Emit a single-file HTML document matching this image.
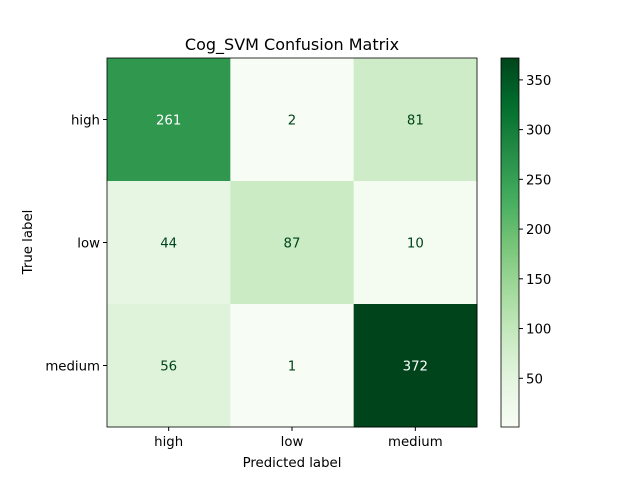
<!DOCTYPE html>
<html><head><meta charset="utf-8"><style>
body{margin:0;background:#fff}
svg{font-family:"DejaVu Sans","Liberation Sans",sans-serif}
</style></head><body>
<svg id="chart" width="640" height="480" viewBox="0 0 640 480">
<defs><linearGradient id="cbg" x1="0" y1="1" x2="0" y2="0"></linearGradient></defs>
<rect width="640" height="480" fill="#fff"/>
<text x="292" y="50" font-size="16" text-anchor="middle">Cog_SVM Confusion Matrix</text>
<g id="cells"></g>
<g id="axes"></g>
<g id="cbar"></g>
<text x="292" y="467" font-size="13.3" text-anchor="middle">Predicted label</text>
<text x="32" y="242" font-size="13.3" text-anchor="middle" transform="rotate(-90 32 242)">True label</text>
</svg>
<script>
const labels=["high","low","medium"];
const matrix=[[261,2,81],[44,87,10],[56,1,372]];
const cbTicks=[50,100,150,200,250,300,350];
const NS="http://www.w3.org/2000/svg";
const stops=["#f7fcf5","#e5f5e0","#c7e9c0","#a1d99b","#74c476","#41ab5d","#238b45","#006d2c","#00441b"];
function hex(h){return[1,3,5].map(i=>parseInt(h.substr(i,2),16));}
function cmap(t){t=Math.max(0,Math.min(1,t));const s=t*(stops.length-1);const i=Math.min(Math.floor(s),stops.length-2);const f=s-i;const a=hex(stops[i]),b=hex(stops[i+1]);return"rgb("+a.map((v,k)=>Math.round(v+(b[k]-v)*f)).join(",")+")";}
function mk(tag,attrs,parent){const e=document.createElementNS(NS,tag);for(const k in attrs)e.setAttribute(k,attrs[k]);parent.appendChild(e);return e;}
const flat=matrix.flat();const vmin=Math.min(...flat),vmax=Math.max(...flat);
const X0=107,Y0=58,W=370,H=369;const cw=W/labels.length,ch=H/labels.length;
const xs=j=>X0+j*cw, ys=i=>Y0+i*ch;
const cells=document.getElementById("cells");const axes=document.getElementById("axes");
const thresh=(vmax+vmin)/2;
matrix.forEach((row,i)=>row.forEach((v,j)=>{
 const r=mk("rect",{x:xs(j),y:ys(i),width:cw+0.5,height:ch+0.5,fill:cmap((v-vmin)/(vmax-vmin))},cells);
 
 
 const t=mk("text",{x:xs(j)+cw/2,y:ys(i)+ch/2+5,"font-size":13.3,"text-anchor":"middle",fill:v>thresh?"#fff":"#00441b"},cells);
 t.textContent=v;
 
 
}));
mk("rect",{x:X0,y:Y0,width:W,height:H,fill:"none",stroke:"#000","stroke-width":0.8},axes);
labels.forEach((l,k)=>{
 const cx=xs(k)+cw/2;
 mk("line",{x1:cx,y1:Y0+H,x2:cx,y2:Y0+H+4,stroke:"#000"},axes);
 const tx=mk("text",{x:cx,y:Y0+H+19,"font-size":13.3,"text-anchor":"middle"},axes);tx.textContent=l;
 
 
 const cy=ys(k)+ch/2;
 mk("line",{x1:X0-4,y1:cy,x2:X0,y2:cy,stroke:"#000"},axes);
 const ty=mk("text",{x:X0-7,y:cy+5,"font-size":13.3,"text-anchor":"end"},axes);ty.textContent=l;
 
 
});
const g=document.getElementById("cbg");
for(let k=0;k<=20;k++){mk("stop",{offset:k/20,"stop-color":cmap(k/20)},g);}
const cb=document.getElementById("cbar");
const CX=501,CW=18;
const cbr=mk("rect",{x:CX,y:Y0,width:CW,height:H,fill:"url(#cbg)",stroke:"#000","stroke-width":0.8},cb);


const cy=v=>Y0+H-(v-vmin)/(vmax-vmin)*H;
cbTicks.forEach(v=>{
 mk("line",{x1:CX+CW,y1:cy(v),x2:CX+CW+4,y2:cy(v),stroke:"#000"},cb);
 const t=mk("text",{x:CX+CW+7,y:cy(v)+5,"font-size":13.3},cb);t.textContent=v;
 
 
});
</script>
</body></html>
